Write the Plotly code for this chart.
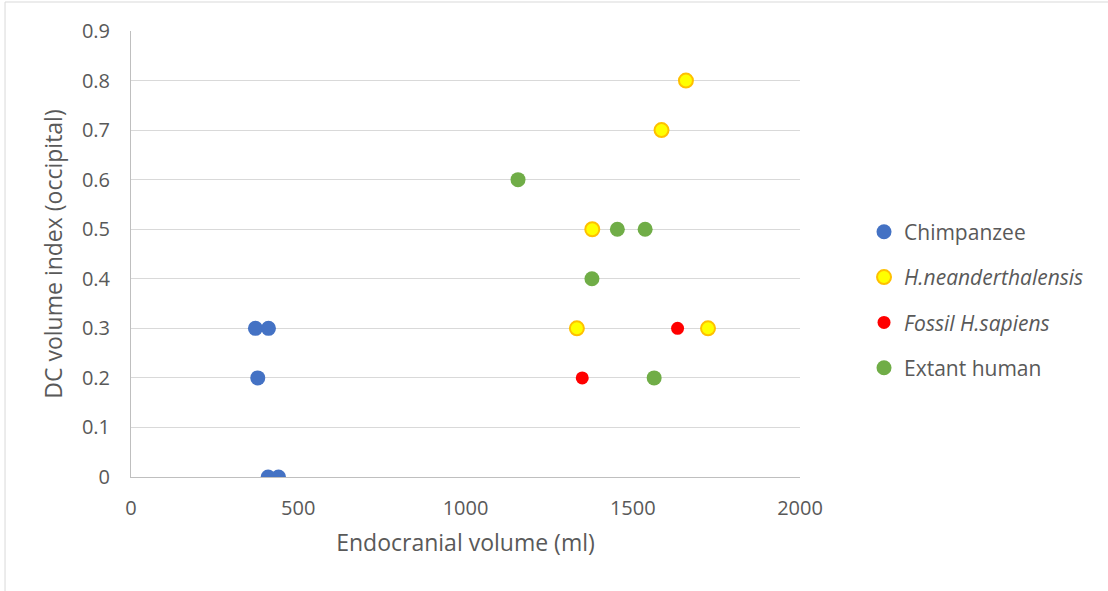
import plotly.graph_objects as go

# Endocranial volume (ml) vs. DC volume index (occipital), by group
chimp_x = [372, 411, 379, 410, 441]
chimp_y = [0.3, 0.3, 0.2, 0.0, 0.0]

nean_x = [1659, 1586, 1379, 1333, 1725]
nean_y = [0.8, 0.7, 0.5, 0.3, 0.3]

fossil_x = [1634, 1349]
fossil_y = [0.3, 0.2]

extant_x = [1157, 1454, 1537, 1378, 1564]
extant_y = [0.6, 0.5, 0.5, 0.4, 0.2]

x_ticks = [0, 500, 1000, 1500, 2000]
y_ticks = [0, 0.1, 0.2, 0.3, 0.4, 0.5, 0.6, 0.7, 0.8, 0.9]

FONT = "Open Sans"
TEXT = "#595959"

fig = go.Figure()
fig.add_trace(go.Scatter(
    x=chimp_x, y=chimp_y, mode="markers", name="Chimpanzee", legendgroup="a",
    marker=dict(size=15, color="#4472C4", line=dict(width=0))))
fig.add_trace(go.Scatter(
    x=nean_x, y=nean_y, mode="markers", name="<i>H.neanderthalensis</i>", legendgroup="b",
    marker=dict(size=14, color="#FFFF00", line=dict(width=2, color="#FFC000"))))
fig.add_trace(go.Scatter(
    x=fossil_x, y=fossil_y, mode="markers", name="<i>Fossil H.sapiens</i>", legendgroup="c",
    marker=dict(size=13, color="#FF0000", line=dict(width=0))))
fig.add_trace(go.Scatter(
    x=extant_x, y=extant_y, mode="markers", name="Extant human", legendgroup="d",
    marker=dict(size=15, color="#70AD47", line=dict(width=0))))

fig.update_layout(
    width=1108, height=591,
    margin=dict(l=131, r=308, t=31, b=114),
    paper_bgcolor="white", plot_bgcolor="white",
    font=dict(family=FONT, color=TEXT, size=20),
    showlegend=True,
    legend=dict(
        x=1.0957, xanchor="left", y=0.595, yanchor="top",
        font=dict(size=21, color=TEXT, family=FONT),
        traceorder="grouped", tracegroupgap=15,
        itemwidth=30, bgcolor="rgba(0,0,0,0)"),
    xaxis=dict(
        range=[0, 2000], tickvals=x_ticks, showgrid=False, zeroline=False,
        showline=True, linecolor="#bfbfbf", linewidth=1,
        ticks="", ticklabelstandoff=13,
        tickfont=dict(size=20, color=TEXT),
        title=dict(text="Endocranial volume (ml)", font=dict(size=23, color=TEXT), standoff=14)),
    yaxis=dict(
        range=[0, 0.9], tickvals=y_ticks, ticktext=[f"{v:g}" for v in y_ticks],
        showgrid=True, gridcolor="#d9d9d9", gridwidth=1, zeroline=False,
        showline=True, linecolor="#bfbfbf", linewidth=1,
        ticks="", ticklabelstandoff=16,
        tickfont=dict(size=20, color=TEXT),
        title=dict(text="DC volume index (occipital)", font=dict(size=23, color=TEXT), standoff=12)),
    shapes=[dict(type="rect", xref="paper", yref="paper",
                 x0=-0.1883, x1=1.6, y0=-0.4, y1=1.065,
                 line=dict(color="#d9d9d9", width=1), fillcolor="rgba(0,0,0,0)",
                 layer="below")],
)

fig.write_html("out.html")
